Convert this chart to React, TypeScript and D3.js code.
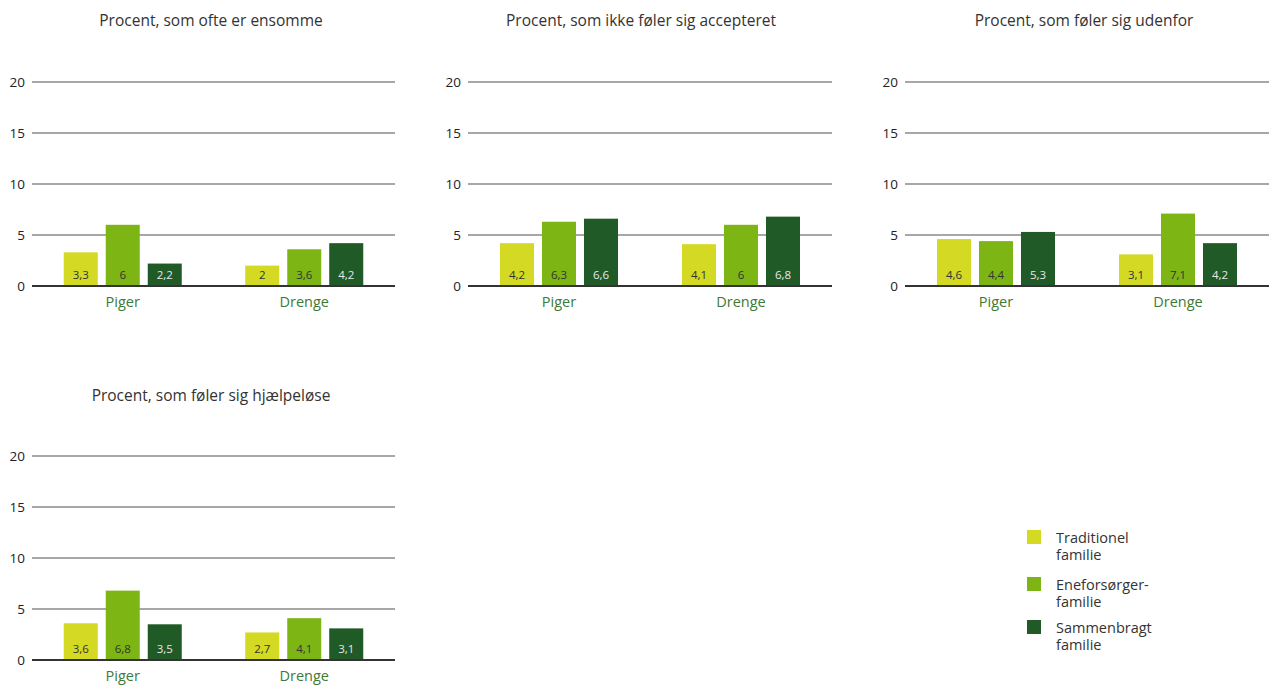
import React from "react";
import * as d3 from "d3";

const categories = ["Piger", "Drenge"];
const seriesNames = ["Traditionel familie", "Eneforsørger-familie", "Sammenbragt familie"];
const legendLines = [["Traditionel", "familie"], ["Eneforsørger-", "familie"], ["Sammenbragt", "familie"]];
const colors = ["#d4d924", "#7db515", "#1f5a27"];
const labelColors = ["#333", "#333", "#e8e8e8"];
const yTicks = [0, 5, 10, 15, 20];

const titles = [
  "Procent, som ofte er ensomme",
  "Procent, som ikke føler sig accepteret",
  "Procent, som føler sig udenfor",
  "Procent, som føler sig hjælpeløse",
];
// values[panel][category][series]
const ensomme = [[3.3, 6, 2.2], [2, 3.6, 4.2]];
const accepteret = [[4.2, 6.3, 6.6], [4.1, 6, 6.8]];
const udenfor = [[4.6, 4.4, 5.3], [3.1, 7.1, 4.2]];
const hjaelpeloese = [[3.6, 6.8, 3.5], [2.7, 4.1, 3.1]];
const panelValues = [ensomme, accepteret, udenfor, hjaelpeloese];

const layout = [
  { x0: 32, x1: 395, yTop: 82, yBottom: 286, titleX: 211, titleY: 26 },
  { x0: 468, x1: 832, yTop: 82, yBottom: 286, titleX: 641, titleY: 26 },
  { x0: 905, x1: 1269, yTop: 82, yBottom: 286, titleX: 1084, titleY: 26 },
  { x0: 32, x1: 395, yTop: 456, yBottom: 660, titleX: 211, titleY: 401 },
];

const FONT = "'Open Sans', 'Noto Sans', sans-serif";
const fmt = (v: number) => String(v).replace(".", ",");

function Panel({ idx }: { idx: number }) {
  const L = layout[idx];
  const vals = panelValues[idx];
  const x = d3.scaleBand<string>().domain(categories).range([L.x0, L.x1]);
  const inner = d3.scaleBand<number>().domain([0, 1, 2]).range([0, 118]).paddingInner(0.19);
  const y = d3.scaleLinear().domain([0, 20]).range([L.yBottom, L.yTop]);
  return (
    <g>
      <text x={L.titleX} y={L.titleY} textAnchor="middle" fontSize={15.5} fill="#333" fontFamily={FONT}>
        {titles[idx]}
      </text>
      {yTicks.map((t) => (
        <g key={t}>
          {t > 0 && (
            <line x1={L.x0} x2={L.x1} y1={y(t)} y2={y(t)} stroke="#8a8a8a" strokeWidth={1.5} />
          )}
          <text x={L.x0 - 7} y={y(t) + 5} textAnchor="end" fontSize={13.5} fill="#222" fontFamily={FONT}>
            {t}
          </text>
        </g>
      ))}
      {categories.map((c, ci) => {
        const gx = (x(c) as number) + x.bandwidth() / 2 - 59;
        return (
          <g key={c}>
            {vals[ci].map((v, si) => {
              const bx = gx + (inner(si) as number);
              return (
                <g key={si}>
                  <rect x={bx} y={y(v)} width={inner.bandwidth()} height={y(0) - y(v)} fill={colors[si]} />
                  <text x={bx + inner.bandwidth() / 2} y={L.yBottom - 7} textAnchor="middle" fontSize={11.5}
                    fill={labelColors[si]} fontFamily={FONT}>
                    {fmt(v)}
                  </text>
                </g>
              );
            })}
            <text x={(x(c) as number) + x.bandwidth() / 2} y={L.yBottom + 21} textAnchor="middle" fontSize={14.5}
              fill="#3d7a35" fontFamily={FONT}>
              {c}
            </text>
          </g>
        );
      })}
      <line x1={L.x0} x2={L.x1} y1={y(0)} y2={y(0)} stroke="#333" strokeWidth={2} />
    </g>
  );
}

export default function App() {
  return (
    <svg width={1271} height={687} style={{ position: "absolute", left: 0, top: 0, background: "#fff" }}>
      {titles.map((_, i) => (
        <Panel key={i} idx={i} />
      ))}
      {seriesNames.map((s, i) => {
        const ys = [530, 577, 620][i];
        return (
          <g key={s}>
            <rect x={1027} y={ys} width={14} height={14} fill={colors[i]} />
            <text x={1056} y={ys + 13} fontSize={14.5} fill="#333" fontFamily={FONT}>
              {legendLines[i][0]}
            </text>
            <text x={1056} y={ys + 30} fontSize={14.5} fill="#333" fontFamily={FONT}>
              {legendLines[i][1]}
            </text>
          </g>
        );
      })}
    </svg>
  );
}
